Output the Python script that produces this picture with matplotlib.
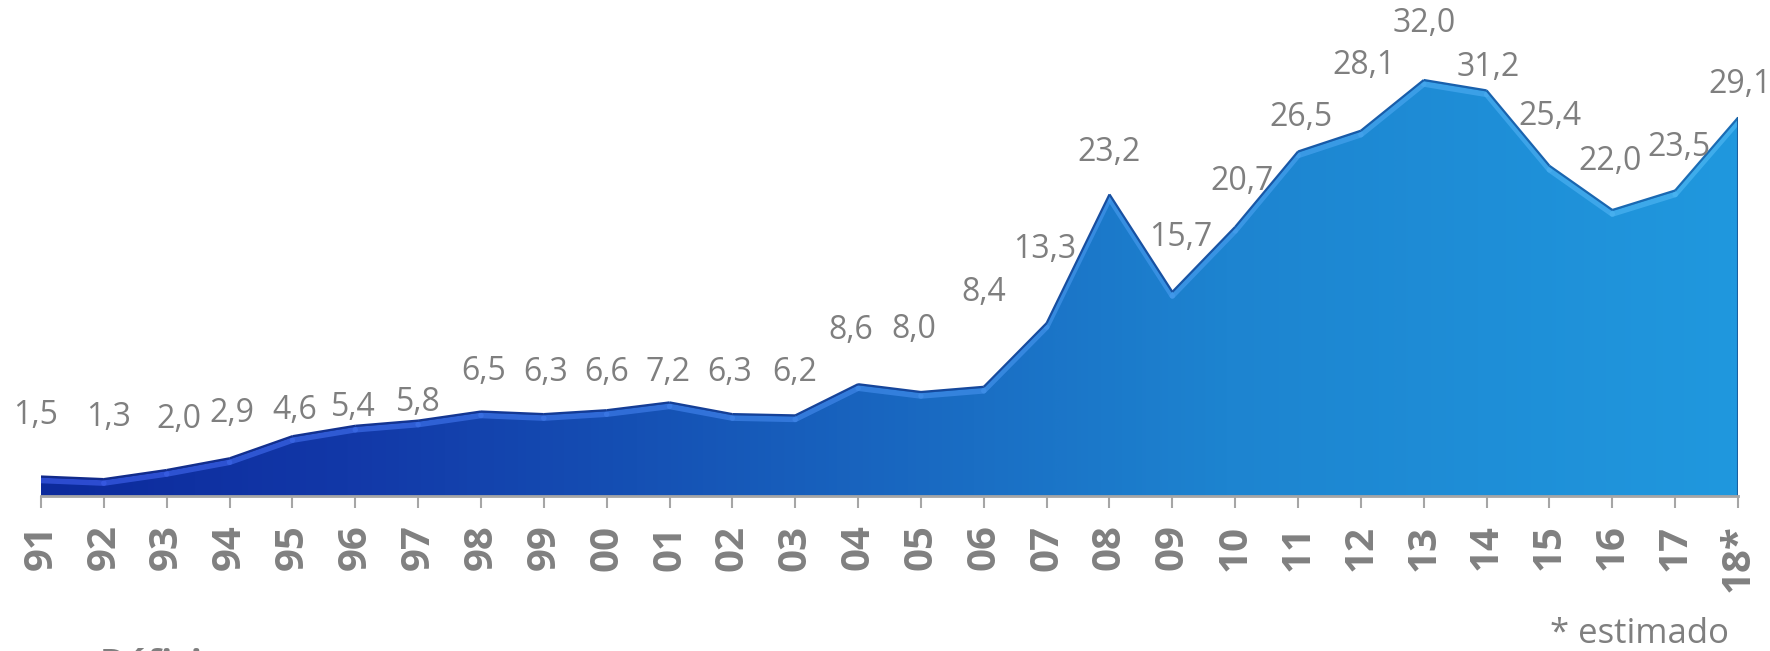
import numpy as np
import matplotlib
matplotlib.use("Agg")
import matplotlib.pyplot as plt
from matplotlib.patches import Polygon
from matplotlib.colors import LinearSegmentedColormap
from matplotlib.collections import LineCollection
import matplotlib.transforms as mtransforms

# ---- data ----
years = ["91", "92", "93", "94", "95", "96", "97", "98", "99", "00", "01", "02", "03", "04",
         "05", "06", "07", "08", "09", "10", "11", "12", "13", "14", "15", "16", "17", "18*"]
values = [1.5, 1.3, 2.0, 2.9, 4.6, 5.4, 5.8, 6.5, 6.3, 6.6, 7.2, 6.3, 6.2, 8.6,
          8.0, 8.4, 13.3, 23.2, 15.7, 20.7, 26.5, 28.1, 32.0, 31.2, 25.4, 22.0, 23.5, 29.1]
footnote = "* estimado"
bottom_title = "Déficit"

# label offsets (pixels) relative to each point
label_dx = [-5, 5, 12, 2, 2, -2, 0, 3, 2, 0, -2, -3, -1, -7,
            -7, 0, -2, 0, 8, 7, 3, 3, 0, 2, 0, -2, 4, 2]
label_dy = [61, 62, 51, 45, 26, 18, 18, 40, 42, 38, 30, 42, 43, 54,
            62, 94, 74, 42, 54, 45, 34, 65, 56, 23, 49, 48, 43, 33]

W, H = 1770, 651
fig = plt.figure(figsize=(W / 100, H / 100), dpi=100)
fig.patch.set_facecolor("white")

left_px, right_px, base_px = 41, 1738, 496
ymax = 34
px_per_unit = 13.0
top_px = base_px - ymax * px_per_unit
ax = fig.add_axes([left_px / W, (H - base_px) / H, (right_px - left_px) / W, (base_px - top_px) / H])
ax.set_xlim(0, len(values) - 1)
ax.set_ylim(0, ymax)
ax.patch.set_alpha(0)

x = np.arange(len(values))
vals = np.array(values)

# gradient fill
cmap = LinearSegmentedColormap.from_list(
    "grad",
    [(0.0, "#0c2a9c"), (0.18, "#1238a8"), (0.35, "#1550b4"), (0.55, "#1a6ec4"),
     (0.7, "#1d84d0"), (1.0, "#2098de")])
grad = np.linspace(0, 1, 600)[None, :]
img = cmap(np.repeat(grad, 200, axis=0))
poly = Polygon([(0, 0)] + list(zip(x, vals)) + [(x[-1], 0)], closed=True,
               facecolor="none", edgecolor="none", transform=ax.transData)
ax.add_patch(poly)
im = ax.imshow(img, extent=[0, x[-1], 0, ymax], aspect="auto", origin="lower",
               zorder=1, interpolation="bilinear")
im.set_clip_path(poly)

# bevel highlight just under the top edge
segs = [[(x[i], vals[i]), (x[i + 1], vals[i + 1])] for i in range(len(x) - 1)]
hl_cmap = LinearSegmentedColormap.from_list("hl", ["#3a5ae6", "#3f8ae8", "#4cb6f2"])
hl_colors = [hl_cmap(i / (len(segs) - 1)) for i in range(len(segs))]
shift = mtransforms.ScaledTranslation(0, -4 / 100, fig.dpi_scale_trans)
lc_hl = LineCollection(segs, colors=hl_colors, linewidths=4, alpha=0.7,
                       transform=ax.transData + shift, zorder=2, capstyle="round")
ax.add_collection(lc_hl)
lc_hl.set_clip_path(poly)

# dark top edge
edge_cmap = LinearSegmentedColormap.from_list("edge", ["#122a8a", "#16459a", "#1a6cb4"])
edge_colors = [edge_cmap(i / (len(segs) - 1)) for i in range(len(segs))]
lc_edge = LineCollection(segs, colors=edge_colors, linewidths=1.6, zorder=3)
ax.add_collection(lc_edge)
ax.plot([x[-1], x[-1]], [0, vals[-1]], color="#1a5fa0", lw=1.5, zorder=3)

# labels
for i, v in enumerate(values):
    ax.annotate(f"{v:.1f}".replace(".", ","), xy=(x[i], v),
                xytext=(label_dx[i], label_dy[i]), textcoords="offset pixels",
                ha="center", va="center", fontsize=23, color="#7f7f7f",
                family="Open Sans", annotation_clip=False, zorder=5)

# axes styling
for s in ["left", "right", "top"]:
    ax.spines[s].set_visible(False)
ax.spines["bottom"].set_color("#a6a6a6")
ax.spines["bottom"].set_linewidth(2)
ax.spines["bottom"].set_zorder(4)
ax.set_yticks([])
ax.set_xticks(x)
ax.set_xticklabels(years, rotation=90, fontsize=29, fontweight="bold",
                   color="#808080", family="Open Sans")
ax.tick_params(axis="x", direction="out", length=8.6, width=1.5, color="#a6a6a6", pad=12)
for lbl in ax.get_xticklabels():
    lbl.set_va("top")

fig.text(1640 / W, (H - 643) / H, footnote, ha="center", va="baseline",
         fontsize=25, color="#7f7f7f", family="Open Sans")
fig.text(100 / W, (H - 648) / H, bottom_title, ha="left", va="top",
         fontsize=26, fontweight="bold", color="#7f7f7f", family="Open Sans")

fig.savefig("out.png", dpi=100)
